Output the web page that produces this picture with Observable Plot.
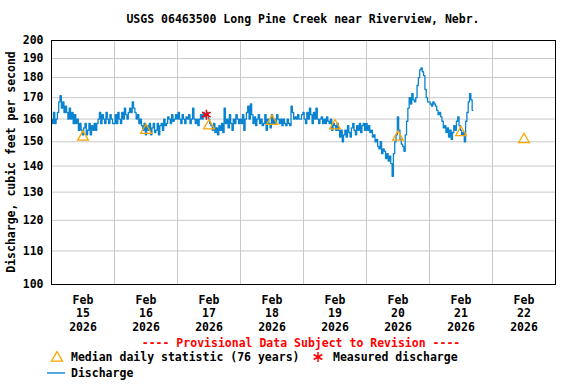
<!DOCTYPE html>
<html>
<head>
<meta charset="utf-8">
<script src="https://cdn.jsdelivr.net/npm/d3@7"></script>
<script src="https://cdn.jsdelivr.net/npm/@observablehq/plot@0.6"></script>
<style>
  html, body { margin: 0; padding: 0; background: #fff; }
  #chart svg { display: block; }
</style>
</head>
<body>
<div id="chart"></div>
<script>
// ---- Data (30-minute discharge readings, cfs, starting Feb 15 2026 00:00) ----
const startTime = Date.UTC(2026, 1, 15, 0, 0);
const stepMinutes = 30;
const feb15 = [160,158,163,158,160,163,168,171,165,168,163,166,163,160,165,160,163,158,162,158,160,155,158,155,153,156,158,153,155,158,153,157,155,158,155,158,160,163,158,162,160,158,163,160,158,162,160,158];
const feb16 = [158,162,158,163,160,158,163,160,165,162,160,163,165,163,168,165,163,160,162,158,160,157,155,158,153,157,155,158,153,156,158,154,155,158,153,157,158,155,160,157,158,161,160,158,162,159,160,162];
const feb17 = [160,163,160,158,162,160,158,161,160,162,158,160,165,160,158,160,157,160,162,160,163,161,162,163,160,158,157,155,158,154,156,153,157,155,158,154,165,158,160,156,162,158,155,160,158,162,160,158];
const feb18 = [160,158,162,155,160,163,166,160,167,162,158,161,157,160,162,158,160,157,158,162,155,160,158,156,162,158,160,158,162,160,158,160,157,160,158,157,160,158,157,166,163,160,161,160,162,160,160,162];
const feb19 = [163,160,158,163,160,165,162,158,163,160,165,160,158,160,161,158,160,158,161,159,158,160,155,158,157,155,158,155,152,155,150,153,155,152,157,154,152,156,158,155,153,157,155,158,154,157,158,155];
const feb20 = [158,155,157,154,155,152,153,150,151,148,147,150,145,147,146,143,145,142,144,141,136,145,150,153,161,155,151,149,148,146,153,159,165,170,167,172,169,168,170,176,180,184,185,183,181,174,170,168];
const feb21 = [168,167,166,168,167,166,164,162,163,161,159,156,157,154,156,152,155,151,154,157,155,159,161,157,155,153,154,150,159,163,168,172,169,164];
const discharge = [...feb15, ...feb16, ...feb17, ...feb18, ...feb19, ...feb20, ...feb21];

// Median daily statistic (76 years), one per day at noon
const medianDays = [15, 16, 17, 18, 19, 20, 21, 22];
const medianValues = [152, 155, 157, 159, 157, 152, 154, 151];

// Measured discharge
const measuredTime = [Date.UTC(2026, 1, 17, 11, 0)];
const measuredValues = [162];

const yTicks = [100, 110, 120, 130, 140, 150, 160, 170, 180, 190, 200];
const yGrid = [110, 120, 130, 140, 150, 160, 170, 180, 190];
const dayLabels = [15, 16, 17, 18, 19, 20, 21, 22];
const gridDays = [16, 17, 18, 19, 20, 21, 22];

const flow = discharge.map((v, i) => ({ t: new Date(startTime + i * stepMinutes * 60000), v }));
const medians = medianDays.map((d, i) => ({ t: new Date(Date.UTC(2026, 1, d, 12)), v: medianValues[i] }));
const measured = measuredTime.map((t, i) => ({ t: new Date(t), v: measuredValues[i] }));
const labelDates = dayLabels.map(d => new Date(Date.UTC(2026, 1, d, 12)));
const gridDates = gridDays.map(d => new Date(Date.UTC(2026, 1, d)));

const FONT = "DejaVu Sans Mono";
const BLUE = "#0a84d0";
const ORANGE = "#ffa500";
const RED = "#ff0000";

const chart = Plot.plot({
  width: 576,
  height: 384,
  marginTop: 40,
  marginBottom: 100,
  marginLeft: 51,
  marginRight: 21,
  style: { fontFamily: FONT, fontWeight: "bold", fontSize: "11.5px", color: "#000", background: "#fff" },
  x: { type: "utc", domain: [new Date(Date.UTC(2026, 1, 15)), new Date(Date.UTC(2026, 1, 23))] },
  y: { type: "log", domain: [100, 200] },
  marks: [
    Plot.ruleY(yGrid, { stroke: "#c8c8c8", strokeWidth: 1 }),
    Plot.ruleX(gridDates, { stroke: "#c8c8c8", strokeWidth: 1 }),
    Plot.line(flow, { x: "t", y: "v", stroke: BLUE, strokeWidth: 1.3, curve: "step" }),
    Plot.dot(medians, { x: "t", y: "v", symbol: "triangle", r: 4.0, stroke: ORANGE, strokeWidth: 1.3, fill: "none" }),
    Plot.dot(measured, { x: "t", y: "v", symbol: "asterisk", r: 4.7, stroke: RED, strokeWidth: 1.5 }),
    Plot.frame({ stroke: "#000", strokeWidth: 1 }),
    Plot.axisY({ ticks: yTicks, tickSize: 0, tickPadding: 8, tickFormat: d => String(d), label: null, fontSize: 11.5, fontWeight: "bold" }),
    Plot.axisX({
      ticks: labelDates, tickSize: 0, tickPadding: 10, label: null,
      tickFormat: d => "Feb\n" + d.getUTCDate() + "\n" + d.getUTCFullYear(),
      lineHeight: 1.16, fontSize: 11.5, fontWeight: "bold"
    })
  ]
});

document.getElementById("chart").appendChild(chart);

const svg = d3.select(chart);
const txt = (x, y, s, opts = {}) => svg.append("text")
  .attr("x", x).attr("y", y)
  .attr("font-family", FONT).attr("font-weight", "bold").attr("font-size", opts.size || "11.5px")
  .attr("fill", opts.fill || "#000")
  .attr("text-anchor", opts.anchor || "start")
  .attr("dominant-baseline", "central")
  .text(s);

// Title
txt(303, 19, "USGS 06463500 Long Pine Creek near Riverview, Nebr.", { anchor: "middle" });
// Y axis label
svg.append("text")
  .attr("transform", "translate(11,162) rotate(-90)")
  .attr("font-family", FONT).attr("font-weight", "bold").attr("font-size", "11.5px")
  .attr("text-anchor", "middle").attr("dominant-baseline", "central")
  .text("Discharge, cubic feet per second");

// Provisional notice
txt(301, 343, "---- Provisional Data Subject to Revision ----", { anchor: "middle", fill: RED });

// Legend
svg.append("path")
  .attr("transform", "translate(57,358)")
  .attr("d", d3.symbol(d3.symbolTriangle, 52.6)())
  .attr("fill", "none").attr("stroke", ORANGE).attr("stroke-width", 1.3);
txt(71, 357, "Median daily statistic (76 years)");
svg.append("path")
  .attr("transform", "translate(318,357)")
  .attr("d", d3.symbol(d3.symbolAsterisk, 70)())
  .attr("fill", "none").attr("stroke", RED).attr("stroke-width", 1.5);
txt(333, 357, "Measured discharge");
svg.append("line")
  .attr("x1", 47).attr("x2", 65).attr("y1", 373).attr("y2", 373)
  .attr("stroke", BLUE).attr("stroke-width", 1.4);
txt(71, 373, "Discharge");
</script>
</body>
</html>
